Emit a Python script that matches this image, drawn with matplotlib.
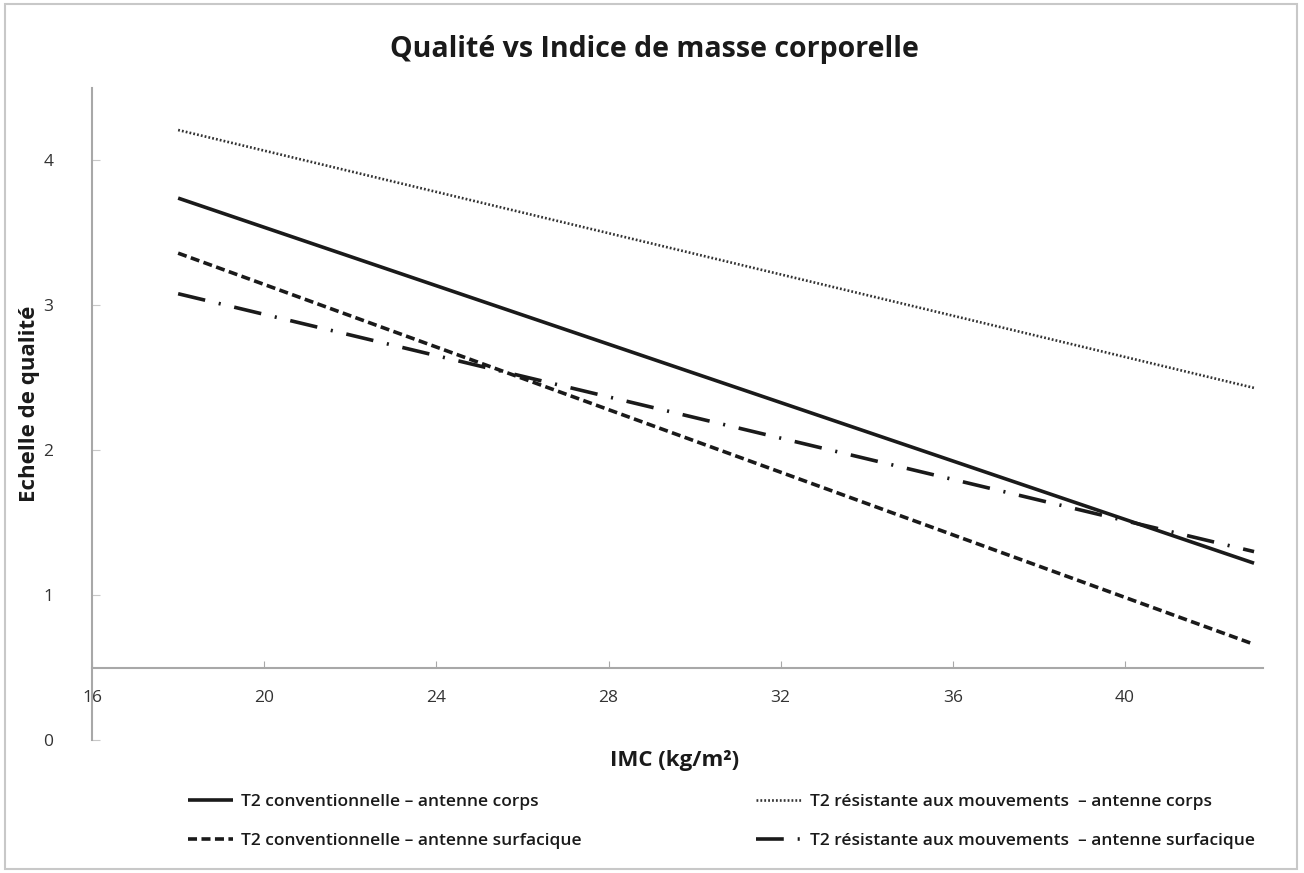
import matplotlib
matplotlib.use("Agg")
import matplotlib.pyplot as plt
from matplotlib.patches import Rectangle

plt.rcParams['font.family'] = ['Open Sans', 'DejaVu Sans']
plt.rcParams['lines.scale_dashes'] = False

title = "Qualité vs Indice de masse corporelle"
xlabel = "IMC (kg/m²)"
ylabel = "Echelle de qualité"
x_ticks = [16, 20, 24, 28, 32, 36, 40]
y_ticks = [0, 1, 2, 3, 4]

imc = [18, 43]
series_names = [
    "T2 conventionnelle – antenne corps",
    "T2 résistante aux mouvements  – antenne corps",
    "T2 conventionnelle – antenne surfacique",
    "T2 résistante aux mouvements  – antenne surfacique",
]
conv_corps = [3.74, 1.22]
resist_corps = [4.21, 2.43]
conv_surf = [3.36, 0.66]
resist_surf = [3.08, 1.30]

fig = plt.figure(figsize=(13.04, 8.73), dpi=100)
fig.patches.append(Rectangle((0.004, 0.005), 0.991, 0.99, transform=fig.transFigure,
                             fill=False, edgecolor='#c8c8c8', linewidth=1.5))
ax = fig.add_axes([0.0706, 0.1524, 0.8977, 0.7468])
ax.set_xlim(16, 43.2)
ax.set_ylim(0, 4.5)

l1, = ax.plot(imc, conv_corps, color='#1a1a1a', lw=2.6, solid_capstyle='butt')
l2, = ax.plot(imc, resist_corps, color='#333333', lw=1.9)
l2.set_dashes((1.3, 1.5))
l3, = ax.plot(imc, conv_surf, color='#1a1a1a', lw=2.6)
l3.set_dashes((6.5, 3.2))
l4, = ax.plot(imc, resist_surf, color='#1a1a1a', lw=2.6)
l4.set_dashes((20, 10, 1.5, 10))

for s in ['top', 'right']:
    ax.spines[s].set_visible(False)
ax.spines['left'].set_position(('data', 16))
ax.spines['bottom'].set_position(('data', 0.5))
for s in ['left', 'bottom']:
    ax.spines[s].set_color('#a8a8a8')
    ax.spines[s].set_linewidth(1.5)

ax.set_xticks(x_ticks)
ax.set_xticklabels([str(v) for v in x_ticks])
ax.set_yticks(y_ticks)
ax.set_yticklabels([str(v) for v in y_ticks])
ax.tick_params(axis='x', direction='in', length=5, color='#a8a8a8', labelsize=12.5,
               labelcolor='#333333', pad=16)
ax.tick_params(axis='y', direction='in', length=6, color='#c8c8c8', labelsize=12.5,
               labelcolor='#333333', pad=28)

fig.text(0.5015, 0.943, title, ha='center', va='center', fontsize=20.5, fontweight='bold',
         color='#1a1a1a')
fig.text(0.517, 0.129, xlabel, ha='center', va='center', fontsize=16, fontweight='bold',
         color='#1a1a1a')
fig.text(0.023, 0.537, ylabel, ha='center', va='center', fontsize=16, fontweight='bold',
         color='#1a1a1a', rotation=90)

handles = [l1, l3, l2, l4]
labels = [series_names[0], series_names[2], series_names[1], series_names[3]]
leg = fig.legend(handles, labels, ncol=2, loc='center', bbox_to_anchor=(0.553, 0.059),
                 frameon=False, prop={'size': 12.5, 'weight': 'semibold'},
                 handlelength=2.6, handletextpad=0.5,
                 columnspacing=10, labelspacing=1.3)
for t in leg.get_texts():
    t.set_color('#1a1a1a')

fig.savefig("out.png", dpi=100, facecolor='white')
